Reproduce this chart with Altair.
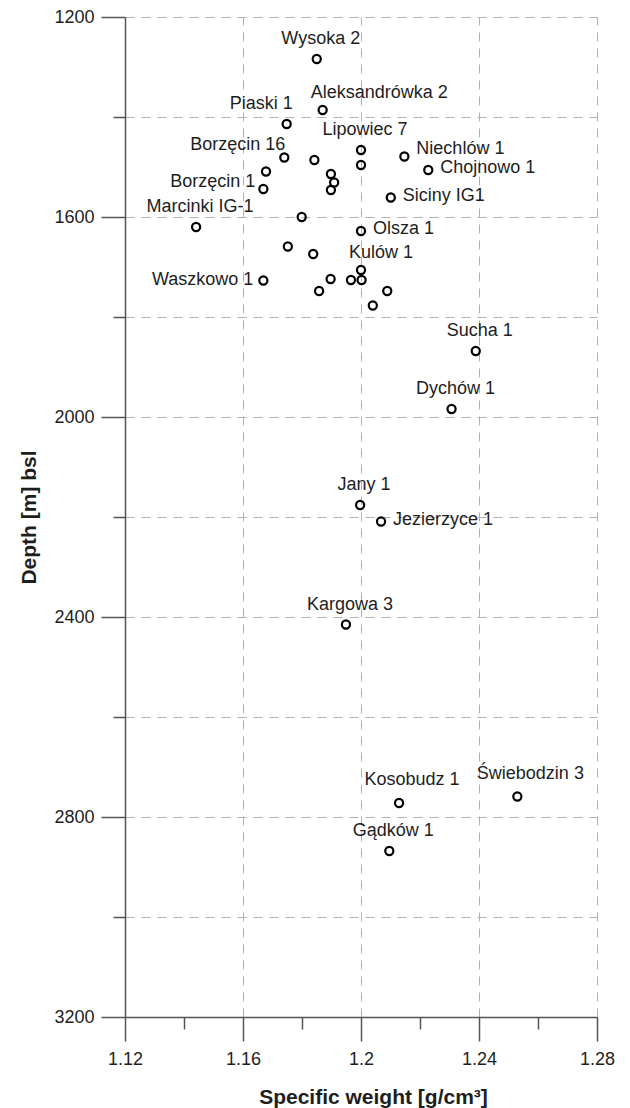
import altair as alt
import pandas as pd

# ---- data ----
names = [
    "Wysoka 2", "Aleksandrówka 2", "Piaski 1", "Lipowiec 7", "", "Niechlów 1",
    "Chojnowo 1", "Siciny IG1", "Borzęcin 16", "", "", "Borzęcin 1", "", "", "",
    "Marcinki IG-1", "", "Olsza 1", "", "", "Kulów 1", "", "", "Waszkowo 1", "",
    "", "", "", "Sucha 1", "Dychów 1", "Jany 1", "Jezierzyce 1", "Kargowa 3",
    "Kosobudz 1", "Świebodzin 3", "Gądków 1",
]
specific_weight = [
    1.185, 1.187, 1.1748, 1.200, 1.200, 1.2147,
    1.2228, 1.2101, 1.174, 1.1842, 1.1678, 1.1669, 1.1898, 1.1909, 1.1898,
    1.1441, 1.1799, 1.200, 1.1752, 1.1838, 1.200, 1.1966, 1.2002, 1.1669, 1.1897,
    1.1858, 1.2089, 1.204, 1.2389, 1.2307, 1.1997, 1.2068, 1.1949,
    1.2129, 1.253, 1.2096,
]
depth = [
    1284, 1386, 1414, 1466, 1496, 1479,
    1506, 1561, 1481, 1486, 1509, 1544, 1514, 1531, 1546,
    1620, 1600, 1628, 1659, 1674, 1706, 1726, 1726, 1727, 1724,
    1748, 1748, 1777, 1868, 1984, 2176, 2209, 2415,
    2772, 2759, 2868,
]
# where each label sits relative to its point
label_side = [
    "N", "NNE", "NW", "N", "", "EN",
    "E", "E", "NW2", "", "", "W2", "", "", "",
    "N", "", "E", "", "", "NNE", "", "", "W", "",
    "", "", "", "N", "N", "N", "E", "N",
    "NE", "NE", "N",
]

x_ticks = [1.12, 1.14, 1.16, 1.18, 1.20, 1.22, 1.24, 1.26, 1.28]
y_ticks = [1200, 1400, 1600, 1800, 2000, 2200, 2400, 2600, 2800, 3000, 3200]
x_domain = [1.12, 1.28]
y_domain = [1200, 3200]

df = pd.DataFrame({
    "name": names,
    "sw": specific_weight,
    "depth": depth,
    "side": label_side,
})

FONT = "Liberation Sans, Arial, sans-serif"
AX = "#555555"
TXT = "#1e1e1e"

# label placement styles: (align, dx, dy)
SIDES = {
    "N": ("center", 4, -20),
    "NE": ("center", 13, -23),
    "NNE": ("left", -12, -17),
    "NW": ("right", 6, -20),
    "NW2": ("right", 1, -13),
    "W": ("right", -10, -1),
    "W2": ("right", -8, -7),
    "E": ("left", 12, -2),
    "EN": ("left", 12, -8),
}

x_major = "round(datum.value * 100) % 4 === 0"
y_major = "datum.value % 400 === 0"

x_enc = alt.X(
    "sw:Q",
    scale=alt.Scale(domain=x_domain, nice=False, zero=False),
    axis=alt.Axis(
        values=x_ticks,
        title="Specific weight [g/cm³]",
        titleFont=FONT, titleFontSize=21, titleFontWeight="bold", titleColor=TXT,
        titlePadding=18, titleX=248, titleAlign="center",
        labelFont=FONT, labelFontSize=18, labelColor=TXT,
        labelExpr=f"{x_major} ? format(datum.value, '~g') : ''",
        labelFlush=False, labelOverlap=False, labelPadding=9,
        domainColor=AX, domainWidth=1.5,
        tickColor=AX, tickWidth=1.5,
        tickSize={"condition": {"test": x_major, "value": 24}, "value": 12},
        grid=True, gridColor="#b0b0b0", gridWidth=1, gridDash=[9, 7],
        gridOpacity={"condition": {"test": x_major, "value": 1}, "value": 0},
    ),
)
y_enc = alt.Y(
    "depth:Q",
    scale=alt.Scale(domain=y_domain, nice=False, zero=False, reverse=True),
    axis=alt.Axis(
        values=y_ticks,
        title="Depth [m] bsl",
        titleFont=FONT, titleFontSize=21, titleFontWeight="bold", titleColor=TXT,
        titlePadding=14,
        labelFont=FONT, labelFontSize=18, labelColor=TXT,
        labelExpr=f"{y_major} ? format(datum.value, 'd') : ''",
        labelOverlap=False, labelPadding=7,
        domainColor=AX, domainWidth=1.5,
        tickColor=AX, tickWidth=1.5,
        tickSize={"condition": {"test": y_major, "value": 24}, "value": 12},
        grid=True, gridColor="#b0b0b0", gridWidth=1, gridDash=[9, 7],
    ),
)

base = alt.Chart(df)

points = base.mark_point(
    shape="circle", filled=False, color="black", strokeWidth=2.2, size=66, opacity=1
).encode(x=x_enc, y=y_enc)

layers = [points]
for side, (align, dx, dy) in SIDES.items():
    layers.append(
        base.transform_filter(alt.datum.side == side)
        .mark_text(align=align, baseline="middle", dx=dx, dy=dy,
                   font=FONT, fontSize=18, color=TXT)
        .encode(x=alt.X("sw:Q"), y=alt.Y("depth:Q"), text="name:N")
    )

chart = (
    alt.layer(*layers)
    .properties(
        width=472, height=1000,
        autosize="none",
        padding={"left": 117, "top": 9, "right": 25, "bottom": 91},
    )
    .configure_view(stroke=None)
)

chart.save("out.html", embed_options={"renderer": "svg", "actions": False})
